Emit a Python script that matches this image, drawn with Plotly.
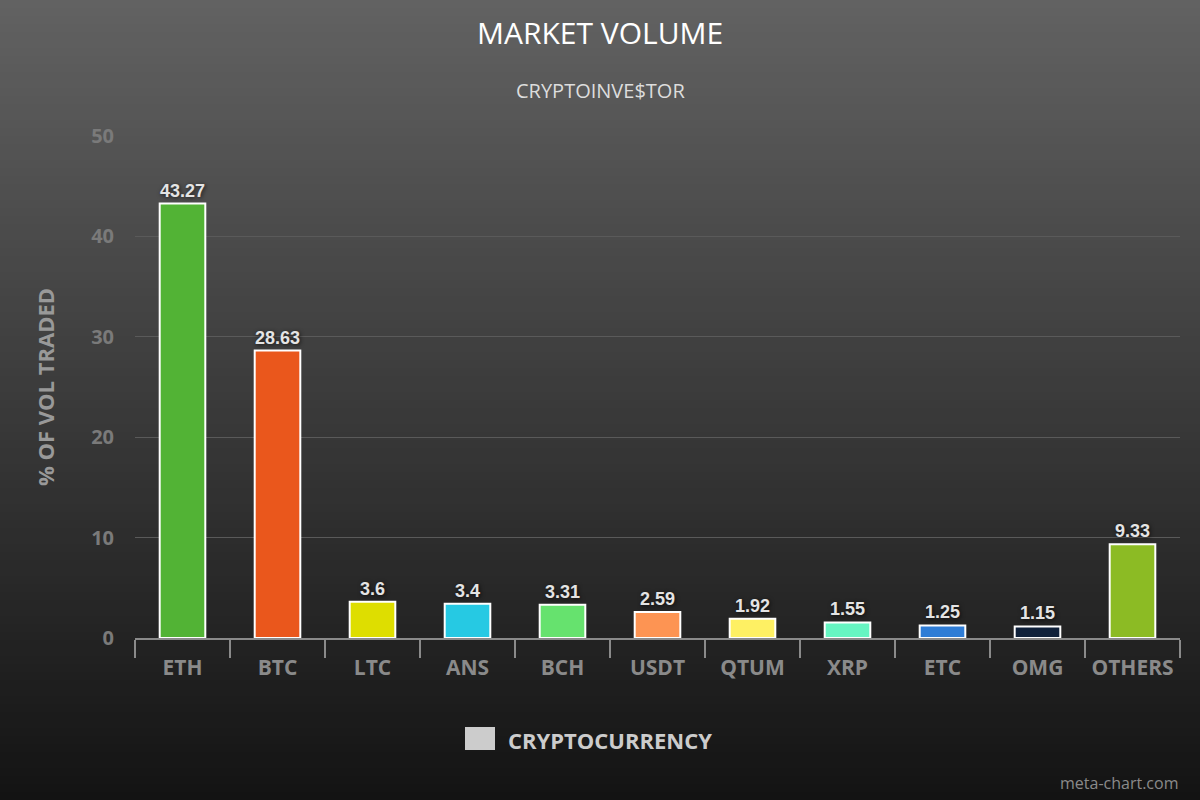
import plotly.graph_objects as go

categories = ["ETH", "BTC", "LTC", "ANS", "BCH", "USDT", "QTUM", "XRP", "ETC", "OMG", "OTHERS"]
values = [43.27, 28.63, 3.6, 3.4, 3.31, 2.59, 1.92, 1.55, 1.25, 1.15, 9.33]
bar_colors = ["#52b335", "#ea571c", "#dede00", "#26c9e3", "#66e26e", "#fd9453",
              "#fef063", "#66f5c2", "#2f7dd6", "#10213a", "#8cbb24"]
value_labels = ["43.27", "28.63", "3.6", "3.4", "3.31", "2.59", "1.92", "1.55", "1.25", "1.15", "9.33"]
y_ticks = [0, 10, 20, 30, 40, 50]

W, H = 1200, 800
ML, MR, MT, MB = 135, 20, 136, 162
PW, PH = W - ML - MR, H - MT - MB

fig = go.Figure()
fig.add_trace(go.Bar(
    x=categories, y=values,
    marker=dict(color=bar_colors, line=dict(color="#ffffff", width=2)),
    width=0.48,
    text=value_labels, textposition="outside", cliponaxis=False,
    textfont=dict(family="Liberation Sans", size=18, color="#e4e4e4", weight="bold",
                  shadow="1px 1px 4px rgba(0,0,0,0.7)"),
    showlegend=False, hoverinfo="x+y",
))

# gradient background via stacked bands (paper coordinates)
shapes = []
N = 100
top_c = (98, 98, 98)
bot_c = (19, 19, 19)
for i in range(N):
    t = (i + 0.5) / N
    c = tuple(int(round(top_c[k] + (bot_c[k] - top_c[k]) * t)) for k in range(3))
    py0 = H * i / N
    py1 = H * (i + 1) / N + 1
    y0 = 1 - (py0 - MT) / PH
    y1 = 1 - (py1 - MT) / PH
    shapes.append(dict(type="rect", xref="paper", yref="paper",
                       x0=-ML / PW, x1=(W - ML) / PW, y0=y1, y1=y0,
                       fillcolor="rgb(%d,%d,%d)" % c, line=dict(width=0), layer="below"))
# legend square
shapes.append(dict(type="rect", xref="paper", yref="paper",
                   x0=(465 - ML) / PW, x1=(495 - ML) / PW,
                   y0=1 - (750 - MT) / PH, y1=1 - (727 - MT) / PH,
                   fillcolor="#cccccc", line=dict(width=0), layer="above"))

annotations = [
    dict(text="MARKET VOLUME", xref="paper", yref="paper", x=(600 - ML) / PW, y=1 - (33 - MT) / PH,
         showarrow=False, xanchor="center", yanchor="middle",
         font=dict(family="Open Sans", size=30, color="#ffffff")),
    dict(text="CRYPTOINVE$TOR", xref="paper", yref="paper", x=(600 - ML) / PW, y=1 - (90 - MT) / PH,
         showarrow=False, xanchor="center", yanchor="middle",
         font=dict(family="Open Sans", size=20, color="#dddddd")),
    dict(text="CRYPTOCURRENCY", xref="paper", yref="paper", x=(506 - ML) / PW, y=1 - (740 - MT) / PH,
         showarrow=False, xanchor="left", yanchor="middle",
         font=dict(family="Open Sans", size=22, color="#cccccc", weight="bold")),
    dict(text="meta-chart.com", xref="paper", yref="paper", x=(1180 - ML) / PW, y=1 - (783 - MT) / PH,
         showarrow=False, xanchor="right", yanchor="middle",
         font=dict(family="Open Sans", size=16, color="#8a8a8a")),
]

fig.update_layout(
    width=W, height=H,
    margin=dict(l=ML, r=MR, t=MT, b=MB, pad=0),
    paper_bgcolor="#3a3a3a", plot_bgcolor="rgba(0,0,0,0)",
    shapes=shapes, annotations=annotations,
    bargap=0.52,
    xaxis=dict(
        type="category", tickson="boundaries", ticks="outside", ticklen=18, tickwidth=2,
        tickcolor="#8a8a8a", showline=True, linecolor="#8a8a8a", linewidth=2,
        showgrid=False, tickangle=0, ticklabelstandoff=10,
        tickfont=dict(family="Open Sans", size=21, color="#8a8a8a", weight="bold"),
    ),
    yaxis=dict(
        range=[0, 50], tickvals=y_ticks, showgrid=True, gridcolor="#5a5a5a", gridwidth=1,
        zeroline=False, ticks="", ticklabelstandoff=20,
        tickfont=dict(family="Open Sans", size=20, color="#7a7a7a", weight="bold"),
        title=dict(text="% OF VOL TRADED", standoff=30,
                   font=dict(family="Open Sans", size=22, color="#999999", weight="bold")),
    ),
)

fig.write_html("out.html", config={"displayModeBar": False},
               post_script="document.body.style.margin='0';")
